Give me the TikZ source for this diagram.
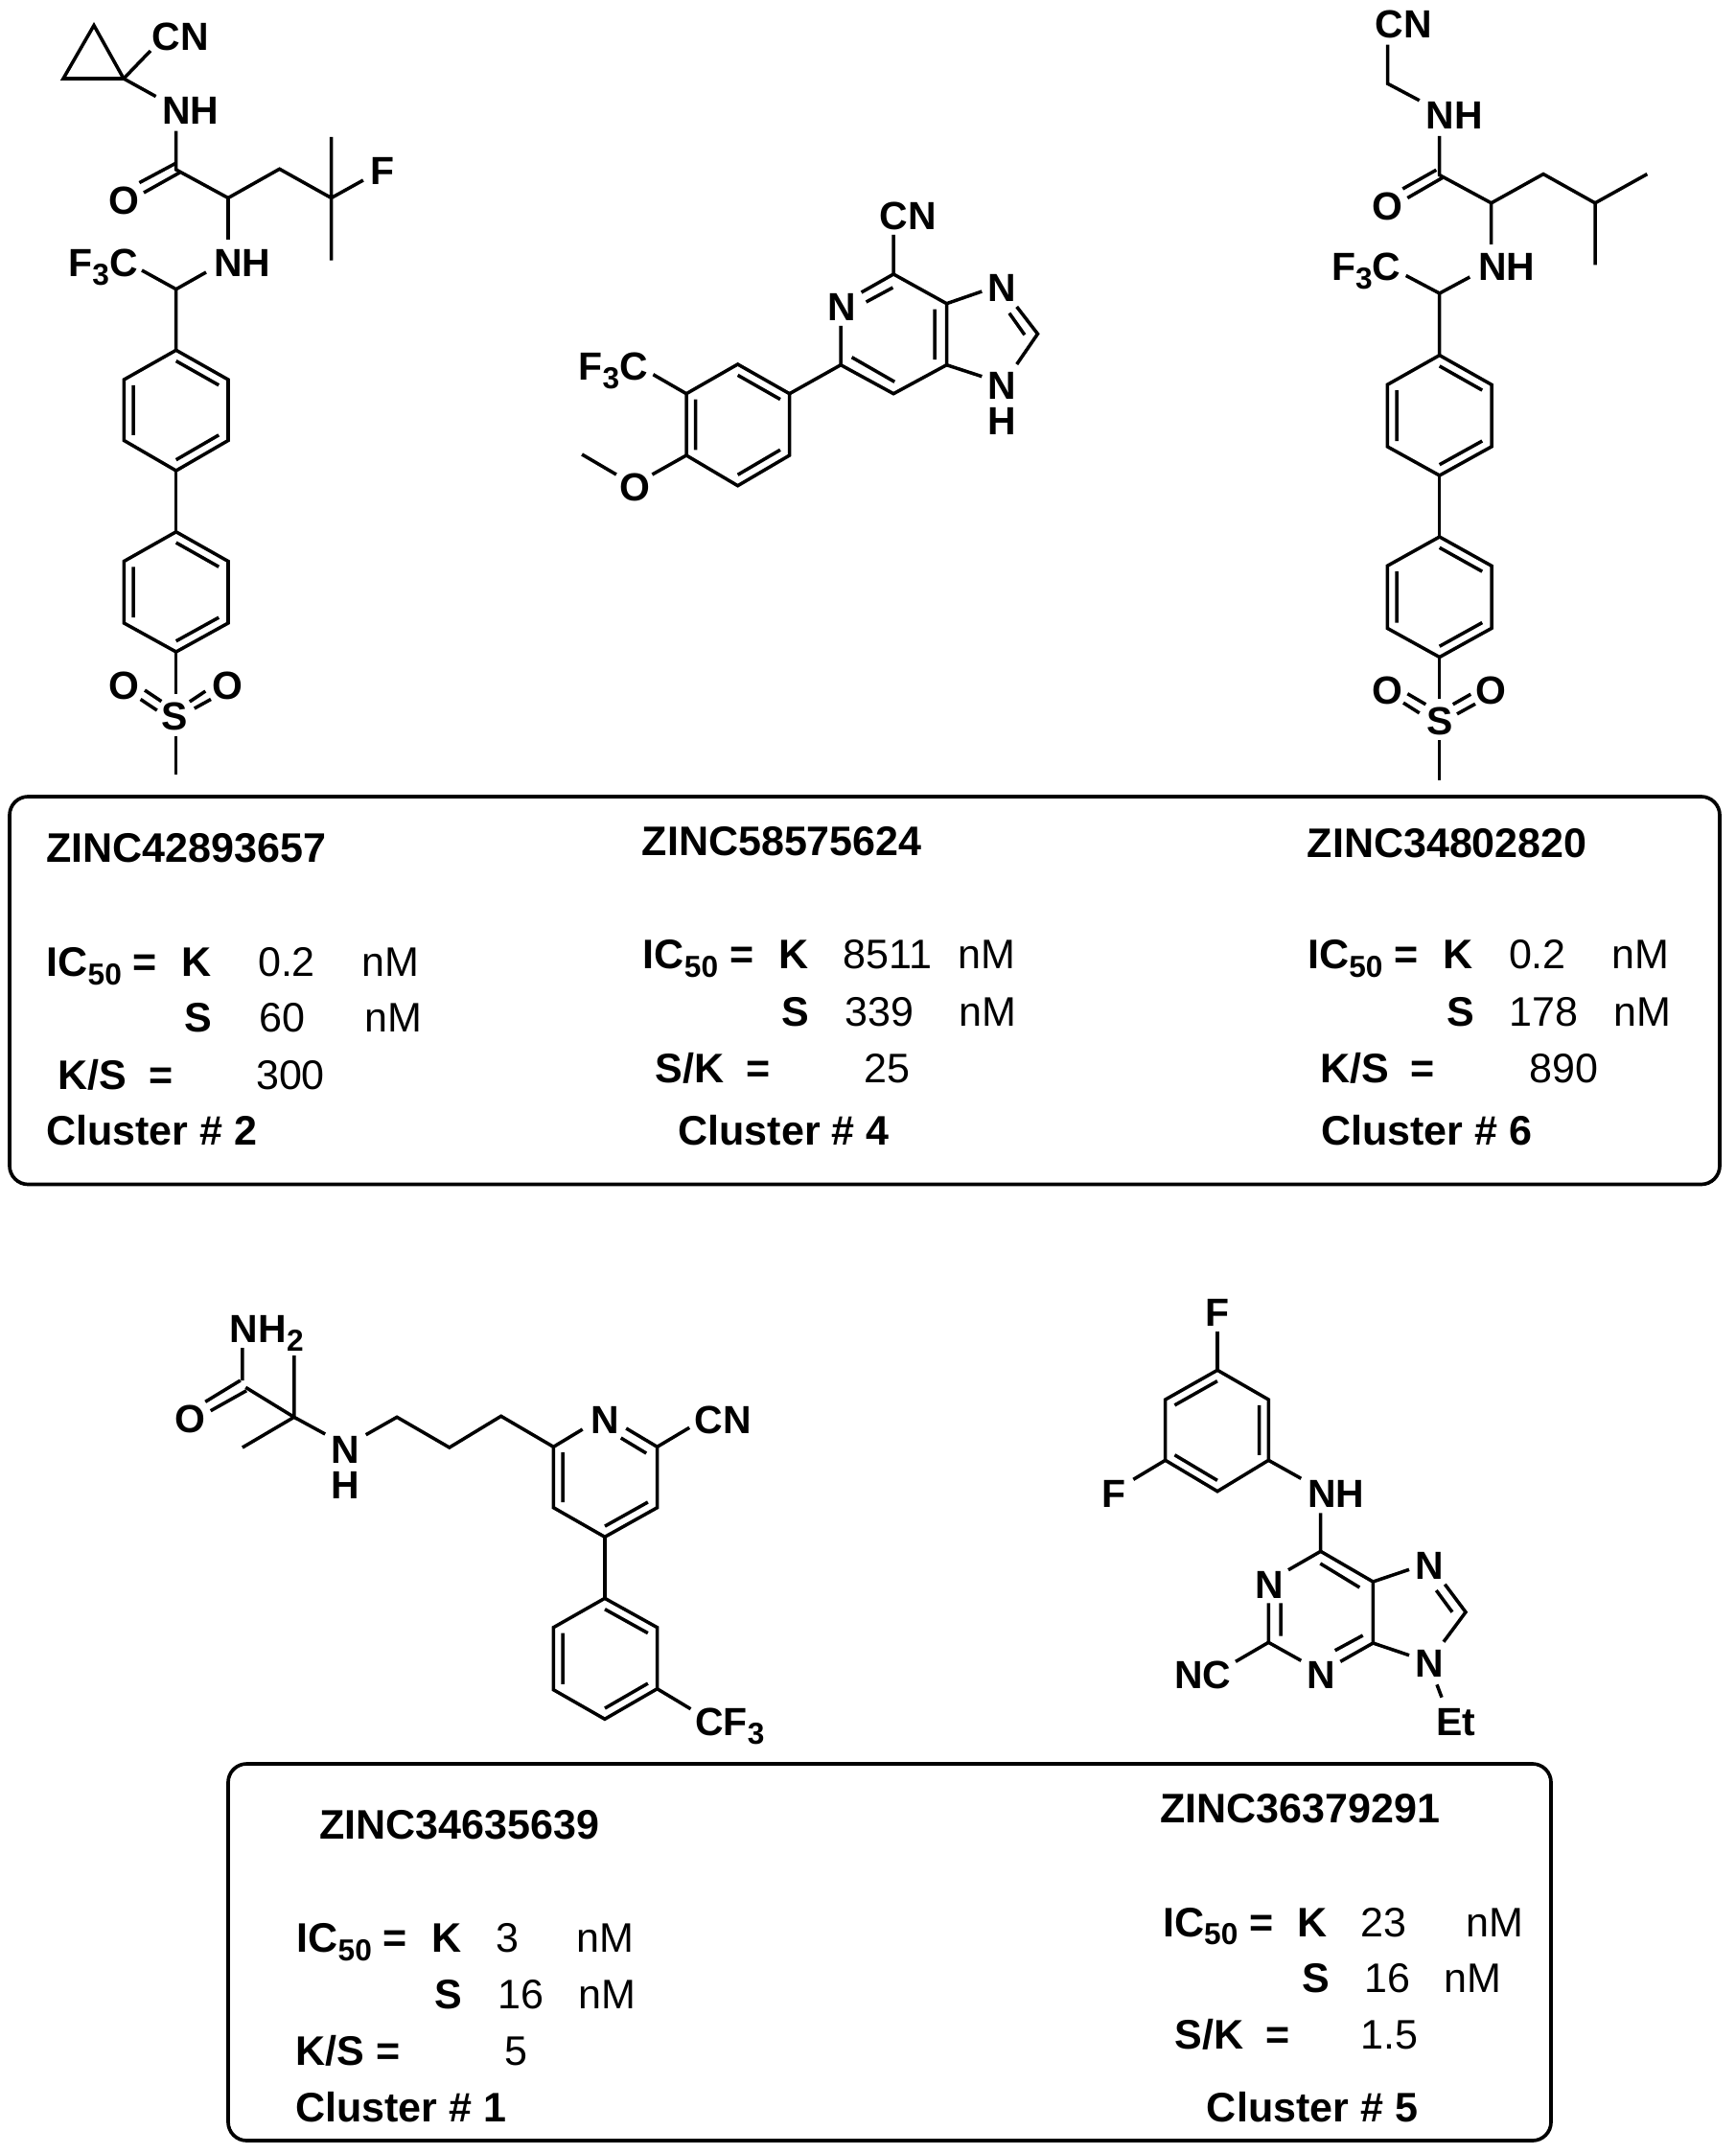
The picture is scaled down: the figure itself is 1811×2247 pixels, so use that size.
\documentclass[tikz,border=0pt]{standalone}
\usepackage{fontspec}
\setmainfont{Liberation Sans}
\usetikzlibrary{calc}
\newcommand{\lowsub}[1]{\raisebox{-5pt}{\fontsize{18}{20}\selectfont #1}}
\begin{document}
\begin{tikzpicture}[x=0.02cm,y=-0.02cm,line width=2pt,
	atom/.style={font=\fontsize{23.3}{28}\selectfont\bfseries,anchor=base,inner sep=0pt},
	tb/.style={font=\fontsize{24.5}{29}\selectfont\bfseries,anchor=base,inner sep=0pt},
	tr/.style={font=\fontsize{24.5}{29}\selectfont,anchor=base,inner sep=0pt},
	frame/.style={line width=2.1pt,rounded corners=11pt}]
			\useasboundingbox (0,0) rectangle (1811,2247);
			
			\coordinate (A1) at (98,26.5);
			\coordinate (A2) at (66,82);
			\coordinate (A3) at (129,82);
			\coordinate (Ae1) at (157,53);
			\coordinate (Ae2) at (162.6,100.6);
			\coordinate (Ae3) at (183.7,136.6);
			\coordinate (A4) at (183.7,177);
			\coordinate (Ad1) at (145.4,190.6);
			\coordinate (Ad2) at (183,170.5);
			\coordinate (Ad3) at (150,201);
			\coordinate (Ad4) at (187.5,180);
			\coordinate (A5) at (238,206.5);
			\coordinate (A6) at (291.6,176.3);
			\coordinate (A7) at (345.6,206.5);
			\coordinate (A8) at (345.6,143);
			\coordinate (A9) at (345.6,271.6);
			\coordinate (Ae4) at (378.9,188);
			\coordinate (Ae5) at (238,250);
			\coordinate (Ae6) at (215,284);
			\coordinate (A10) at (183.7,301.7);
			\coordinate (Ae7) at (148,282);
			\coordinate (Apo) at (183.7,428);
			\coordinate (Ap1) at (183.7,365.3);
			\coordinate (Ap2) at (238,396);
			\coordinate (Ap3) at (238,459.5);
			\coordinate (Ap4) at (183.7,491);
			\coordinate (Ap5) at (129.4,459.5);
			\coordinate (Ap6) at (129.4,396);
			\coordinate (Aqo) at (183.7,617.5);
			\coordinate (Aq1) at (183.7,554.8);
			\coordinate (Aq2) at (238,585.5);
			\coordinate (Aq3) at (238,650);
			\coordinate (Aq4) at (183.7,680);
			\coordinate (Aq5) at (129.4,650);
			\coordinate (Aq6) at (129.4,585.5);
			\coordinate (Ae8) at (183.7,724);
			\coordinate (Ae9) at (183.7,767.6);
			\coordinate (A11) at (183.7,808.4);
			\coordinate (As1) at (151,720);
			\coordinate (As2) at (168.4,731.6);
			\coordinate (As3) at (146.6,729.5);
			\coordinate (As4) at (163.8,741);
			\coordinate (As5) at (197.9,732);
			\coordinate (As6) at (214.3,721);
			\coordinate (As7) at (202.8,739);
			\coordinate (As8) at (220,729.5);
			
			\node (ACN) at (188.5,53) [atom] {CN};
			\node (ANHa) at (199,130) [atom] {NH};
			\node (AO) at (129.4,224) [atom] {O};
			\node (AF) at (399,193) [atom] {F};
			\node (ANHb) at (252.6,288.5) [atom] {NH};
			\node (ACF) at (107.5,288.5) [atom] {F\lowsub{3}C};
			\node (AS) at (182.5,761) [atom] {S};
			\node (AOa) at (129.4,729) [atom] {O};
			\node (AOb) at (237.3,729) [atom] {O};
			
			\draw (A1)--(A2)--(A3)--cycle;
			\draw (A3)--(Ae1) (A3)--(Ae2) (Ae3)--(A4)--(A5)--(A6)--(A7)--(Ae4) (A8)--(A9);
			\draw (Ad1)--(Ad2) (Ad3)--(Ad4);
			\draw (A5)--(Ae5) (Ae6)--(A10)--(Ae7) (A10)--(Ap1);
			\draw (Ap1)--(Ap2)--(Ap3)--(Ap4)--(Ap5)--(Ap6)--cycle;
			\draw ($(Ap1)!.18!(Apo)$)--($(Ap2)!.18!(Apo)$) ($(Ap3)!.18!(Apo)$)--($(Ap4)!.18!(Apo)$) ($(Ap5)!.18!(Apo)$)--($(Ap6)!.18!(Apo)$);
			\draw (Ap4)--(Aq1);
			\draw (Aq1)--(Aq2)--(Aq3)--(Aq4)--(Aq5)--(Aq6)--cycle;
			\draw ($(Aq1)!.18!(Aqo)$)--($(Aq2)!.18!(Aqo)$) ($(Aq3)!.18!(Aqo)$)--($(Aq4)!.18!(Aqo)$) ($(Aq5)!.18!(Aqo)$)--($(Aq6)!.18!(Aqo)$);
			\draw (Aq4)--(Ae8) (Ae9)--(A11);
			\draw (As1)--(As2) (As3)--(As4) (As5)--(As6) (As7)--(As8);
			
			\coordinate (B1) at (932.1,245);
			\coordinate (B2) at (932.1,286);
			\coordinate (Bd1) at (898.6,305);
			\coordinate (Bd2) at (903.6,315);
			\coordinate (Bd3) at (931.4,300);
			\coordinate (B3) at (987.5,316.7);
			\coordinate (B4) at (987.5,380.7);
			\coordinate (Bd4) at (975,322.7);
			\coordinate (Bd5) at (975,375);
			\coordinate (B5) at (932.1,410.7);
			\coordinate (B6) at (877.1,380.7);
			\coordinate (Bd6) at (888.6,372.7);
			\coordinate (Bd7) at (933.2,398.3);
			\coordinate (Be1) at (877.1,340);
			\coordinate (Be2) at (1024.3,304);
			\coordinate (Be3) at (1024.3,392.7);
			\coordinate (Be4) at (1060.7,320);
			\coordinate (B7) at (1082.5,348.3);
			\coordinate (Be5) at (1060.7,380);
			\coordinate (Bd8) at (1052.9,326.7);
			\coordinate (Bd9) at (1068.9,349.3);
			\coordinate (Bpo) at (769.8,443.3);
			\coordinate (Bp1) at (823.6,410.7);
			\coordinate (Bp2) at (769.6,380);
			\coordinate (Bp3) at (716,410.7);
			\coordinate (Bp4) at (716,475);
			\coordinate (Bp5) at (769.6,506.7);
			\coordinate (Bp6) at (823.6,475);
			\coordinate (Be6) at (681.4,390.7);
			\coordinate (Be7) at (680.4,495);
			\coordinate (Be8) at (642.9,495);
			\coordinate (B8) at (607.1,474);
			
			\node (BCN) at (947.5,240) [atom] {CN};
			\node (BNa) at (878.4,335) [atom] {N};
			\node (BNb) at (1045.7,315) [atom] {N};
			\node (BNc) at (1045.7,416.7) [atom] {N};
			\node (BH) at (1045.7,453.3) [atom] {H};
			\node (BCF) at (639.8,396.7) [atom] {F\lowsub{3}C};
			\node (BO) at (662,522.5) [atom] {O};
			
			\draw (B1)--(B2)--(B3)--(B4)--(B5)--(B6)--(Be1);
			\draw (B2)--(Bd1) (Bd2)--(Bd3) (Bd4)--(Bd5) (Bd6)--(Bd7);
			\draw (B3)--(Be2) (B4)--(Be3) (Be4)--(B7)--(Be5) (Bd8)--(Bd9);
			\draw (B6)--(Bp1);
			\draw (Bp1)--(Bp2)--(Bp3)--(Bp4)--(Bp5)--(Bp6)--cycle;
			\draw ($(Bp1)!.18!(Bpo)$)--($(Bp2)!.18!(Bpo)$) ($(Bp3)!.18!(Bpo)$)--($(Bp4)!.18!(Bpo)$) ($(Bp5)!.18!(Bpo)$)--($(Bp6)!.18!(Bpo)$);
			\draw (Bp3)--(Be6) (Bp4)--(Be7) (Be8)--(B8);
			
			\coordinate (C1) at (1447.7,46.6);
			\coordinate (C2) at (1447.7,87.3);
			\coordinate (Ce1) at (1480.7,104.8);
			\coordinate (Ce2) at (1501.7,141.9);
			\coordinate (C3) at (1501.7,182.6);
			\coordinate (Cd1) at (1463.3,197);
			\coordinate (Cd2) at (1498.3,177.3);
			\coordinate (Cd3) at (1468.3,206.5);
			\coordinate (Cd4) at (1505,185.3);
			\coordinate (C4) at (1555.7,211.8);
			\coordinate (C5) at (1610,181.6);
			\coordinate (C6) at (1664,211.8);
			\coordinate (C7) at (1718.3,181.6);
			\coordinate (C8) at (1664,276.3);
			\coordinate (Ce3) at (1555.7,255);
			\coordinate (Ce4) at (1533.3,289);
			\coordinate (C9) at (1501.7,306);
			\coordinate (Ce5) at (1466.7,287.5);
			\coordinate (Cpo) at (1501.7,433.3);
			\coordinate (Cp1) at (1501.7,370.6);
			\coordinate (Cp2) at (1556,401.3);
			\coordinate (Cp3) at (1556,465.9);
			\coordinate (Cp4) at (1501.7,496);
			\coordinate (Cp5) at (1447.3,465.9);
			\coordinate (Cp6) at (1447.3,401.3);
			\coordinate (Cqo) at (1501.7,622.8);
			\coordinate (Cq1) at (1501.7,560);
			\coordinate (Cq2) at (1556,590.3);
			\coordinate (Cq3) at (1556,655.4);
			\coordinate (Cq4) at (1501.7,685.5);
			\coordinate (Cq5) at (1447.3,655.4);
			\coordinate (Cq6) at (1447.3,590.3);
			\coordinate (Ce6) at (1501.7,729);
			\coordinate (Ce7) at (1501.7,771.8);
			\coordinate (C10) at (1501.7,813.7);
			\coordinate (Cs1) at (1468.3,723.7);
			\coordinate (Cs2) at (1487.3,734.8);
			\coordinate (Cs3) at (1464,733.2);
			\coordinate (Cs4) at (1480.7,743.8);
			\coordinate (Cs5) at (1515.7,734.8);
			\coordinate (Cs6) at (1534.3,724.2);
			\coordinate (Cs7) at (1520,744.8);
			\coordinate (Cs8) at (1539,734.3);
			
			\node (CCN) at (1464,39.5) [atom] {CN};
			\node (CNHa) at (1517.5,135) [atom] {NH};
			\node (CO) at (1447,229.5) [atom] {O};
			\node (CNHb) at (1571.7,292.7) [atom] {NH};
			\node (CCF) at (1425.2,292.7) [atom] {F\lowsub{3}C};
			\node (CS) at (1501.7,766) [atom] {S};
			\node (COa) at (1447,734.3) [atom] {O};
			\node (COb) at (1555.3,734.3) [atom] {O};
			
			\draw (C1)--(C2)--(Ce1) (Ce2)--(C3)--(C4)--(C5)--(C6)--(C7) (C6)--(C8);
			\draw (Cd1)--(Cd2) (Cd3)--(Cd4);
			\draw (C4)--(Ce3) (Ce4)--(C9)--(Ce5) (C9)--(Cp1);
			\draw (Cp1)--(Cp2)--(Cp3)--(Cp4)--(Cp5)--(Cp6)--cycle;
			\draw ($(Cp1)!.18!(Cpo)$)--($(Cp2)!.18!(Cpo)$) ($(Cp3)!.18!(Cpo)$)--($(Cp4)!.18!(Cpo)$) ($(Cp5)!.18!(Cpo)$)--($(Cp6)!.18!(Cpo)$);
			\draw (Cp4)--(Cq1);
			\draw (Cq1)--(Cq2)--(Cq3)--(Cq4)--(Cq5)--(Cq6)--cycle;
			\draw ($(Cq1)!.18!(Cqo)$)--($(Cq2)!.18!(Cqo)$) ($(Cq3)!.18!(Cqo)$)--($(Cq4)!.18!(Cqo)$) ($(Cq5)!.18!(Cqo)$)--($(Cq6)!.18!(Cqo)$);
			\draw (Cq4)--(Ce6) (Ce7)--(C10);
			\draw (Cs1)--(Cs2) (Cs3)--(Cs4) (Cs5)--(Cs6) (Cs7)--(Cs8);
			
			\coordinate (box1a) at (10,831);
			\coordinate (box1b) at (1794,1235.5);
			\draw[frame] (box1a) rectangle (box1b);
			
			\node (zincA) at (194.5,899.3) [tb] {ZINC42893657};
			\node (icA) at (106.3,1018.3) [tb] {IC\lowsub{50} =};
			\node (kA) at (204.8,1018.3) [tb] {K};
			\node (kvalA) at (299,1018.3) [tr] {0.2};
			\node (kunitA) at (407.6,1018.3) [tr] {nM};
			\node (sA) at (206.5,1076.7) [tb] {S};
			\node (svalA) at (294.3,1076.7) [tr] {60};
			\node (sunitA) at (410,1076.7) [tr] {nM};
			\node (ratioA) at (96.5,1136) [tb] {K/S};
			\node (eqA) at (168.5,1136) [tb] {=};
			\node (rvalA) at (303,1136) [tr] {300};
			\node (clusA) at (158.3,1194) [tb] {Cluster \# 2};
			
			\node (zincB) at (815.7,892.7) [tb] {ZINC58575624};
			\node (icB) at (728.6,1010.7) [tb] {IC\lowsub{50} =};
			\node (kB) at (828.5,1010.7) [tb] {K};
			\node (kvalB) at (926,1010.7) [tr] {8511};
			\node (kunitB) at (1029.3,1010.7) [tr] {nM};
			\node (sB) at (829.7,1070) [tb] {S};
			\node (svalB) at (917.8,1070) [tr] {339};
			\node (sunitB) at (1030.5,1070) [tr] {nM};
			\node (ratioB) at (719.8,1129.3) [tb] {S/K};
			\node (eqB) at (791,1129.3) [tb] {=};
			\node (rvalB) at (925,1129.3) [tr] {25};
			\node (clusB) at (817.5,1194) [tb] {Cluster \# 4};
			
			\node (zincC) at (1509.7,894) [tb] {ZINC34802820};
			\node (icC) at (1422,1010.7) [tb] {IC\lowsub{50} =};
			\node (kC) at (1521.5,1010.7) [tb] {K};
			\node (kvalC) at (1603.9,1010.7) [tr] {0.2};
			\node (kunitC) at (1711.8,1010.7) [tr] {nM};
			\node (sC) at (1524.2,1070.7) [tb] {S};
			\node (svalC) at (1610.8,1070.7) [tr] {178};
			\node (sunitC) at (1713.5,1070.7) [tr] {nM};
			\node (ratioC) at (1413.3,1129.3) [tb] {K/S};
			\node (eqC) at (1484.3,1129.3) [tb] {=};
			\node (rvalC) at (1631.5,1129.3) [tr] {890};
			\node (clusC) at (1488.3,1194) [tb] {Cluster \# 6};
			
			\coordinate (D1) at (252.9,1406);
			\coordinate (D2) at (252.9,1440);
			\coordinate (Dd1) at (214.2,1462.3);
			\coordinate (Dd2) at (250.8,1440);
			\coordinate (Dd3) at (219.7,1471.7);
			\coordinate (Dd4) at (257.1,1450.7);
			\coordinate (D3) at (256.3,1447.3);
			\coordinate (D4) at (306.8,1478.3);
			\coordinate (D5) at (306.8,1414);
			\coordinate (D6) at (252.9,1510);
			\coordinate (De1) at (339.2,1496);
			\coordinate (De2) at (381.7,1496.7);
			\coordinate (D7) at (414.1,1478.3);
			\coordinate (D8) at (468.8,1510);
			\coordinate (D9) at (522.7,1477.3);
			\coordinate (Dpo) at (631.5,1541);
			\coordinate (Dp1) at (577.4,1509.3);
			\coordinate (De3) at (607.7,1491);
			\coordinate (De4) at (653.2,1490);
			\coordinate (Dp2) at (685.6,1509.3);
			\coordinate (Dd5) at (647.7,1500);
			\coordinate (Dd6) at (674.2,1516);
			\coordinate (De5) at (719.2,1489.3);
			\coordinate (Dp3) at (685.6,1572.7);
			\coordinate (Dp4) at (630.9,1603.3);
			\coordinate (Dp5) at (577.4,1572.7);
			\coordinate (Dqo) at (631.5,1730.5);
			\coordinate (Dq1) at (630.9,1667.3);
			\coordinate (Dq2) at (685.6,1697.7);
			\coordinate (Dq3) at (685.6,1761.7);
			\coordinate (Dq4) at (630.9,1793.3);
			\coordinate (Dq5) at (577.4,1762.7);
			\coordinate (Dq6) at (577.4,1697.7);
			\coordinate (De6) at (720.5,1782.7);
			
			\node (DNH) at (278.3,1400.7) [atom] {NH\lowsub{2}};
			\node (DO) at (198.3,1494.5) [atom] {O};
			\node (DN) at (360.7,1526.7) [atom] {N};
			\node (DH) at (360.7,1563.3) [atom] {H};
			\node (DNa) at (630.9,1495) [atom] {N};
			\node (DCN) at (754.4,1495) [atom] {CN};
			\node (DCF) at (761.3,1810.7) [atom] {CF\lowsub{3}};
			
			\draw (D1)--(D2) (D3)--(D4)--(D5) (D4)--(D6) (D4)--(De1);
			\draw (Dd1)--(Dd2) (Dd3)--(Dd4);
			\draw (De2)--(D7)--(D8)--(D9)--(Dp1)--(De3) (De4)--(Dp2)--(De5) (Dd5)--(Dd6);
			\draw (Dp1)--(Dp5)--(Dp4)--(Dp3)--(Dp2);
			\draw ($(Dp1)!.18!(Dpo)$)--($(Dp5)!.18!(Dpo)$) ($(Dp3)!.18!(Dpo)$)--($(Dp4)!.18!(Dpo)$);
			\draw (Dp4)--(Dq1);
			\draw (Dq1)--(Dq2)--(Dq3)--(Dq4)--(Dq5)--(Dq6)--cycle;
			\draw ($(Dq1)!.18!(Dqo)$)--($(Dq2)!.18!(Dqo)$) ($(Dq3)!.18!(Dqo)$)--($(Dq4)!.18!(Dqo)$) ($(Dq5)!.18!(Dqo)$)--($(Dq6)!.18!(Dqo)$);
			\draw (Dq3)--(De6);
			
			\coordinate (E1) at (1270,1389.3);
			\coordinate (Epo) at (1269.5,1492.5);
			\coordinate (Ep1) at (1270,1429.3);
			\coordinate (Ep2) at (1323.3,1460);
			\coordinate (Ep3) at (1323.3,1523.3);
			\coordinate (Ep4) at (1270,1555.7);
			\coordinate (Ep5) at (1215.7,1523.3);
			\coordinate (Ep6) at (1215.7,1460);
			\coordinate (Ee1) at (1182.3,1543.3);
			\coordinate (Ee2) at (1357.3,1542.3);
			\coordinate (Ee3) at (1377.7,1578.3);
			\coordinate (E2) at (1377.7,1618.3);
			\coordinate (E3) at (1432.3,1650);
			\coordinate (E4) at (1432.3,1714);
			\coordinate (E5) at (1323.3,1713.3);
			\coordinate (Ee4) at (1344,1637.7);
			\coordinate (Ed1) at (1377.3,1631);
			\coordinate (Ed2) at (1418.3,1656);
			\coordinate (Ee5) at (1398.3,1733.3);
			\coordinate (Ed3) at (1392.7,1721.7);
			\coordinate (Ed4) at (1421.7,1706);
			\coordinate (Ee6) at (1357.3,1732.3);
			\coordinate (Ee7) at (1323.3,1672.3);
			\coordinate (Ed5) at (1336,1706.7);
			\coordinate (Ed6) at (1336,1672.3);
			\coordinate (Ee8) at (1289,1733.3);
			\coordinate (Ee9) at (1470,1637.3);
			\coordinate (Ee10) at (1507.3,1652.7);
			\coordinate (E6) at (1529,1681.7);
			\coordinate (Ed7) at (1498.3,1659);
			\coordinate (Ed8) at (1515,1681.7);
			\coordinate (Ee11) at (1506,1712.7);
			\coordinate (Ee12) at (1470,1726.7);
			\coordinate (Ee13) at (1499,1757.3);
			\coordinate (Ee14) at (1504,1770.7);
			
			\node (EFa) at (1270,1383.3) [atom] {F};
			\node (EFb) at (1161.7,1572.3) [atom] {F};
			\node (ENH) at (1393.8,1572.3) [atom] {NH};
			\node (ENa) at (1324.5,1667.7) [atom] {N};
			\node (ENb) at (1377.8,1761.7) [atom] {N};
			\node (ENC) at (1254.7,1761.7) [atom] {NC};
			\node (ENc) at (1491.2,1647.3) [atom] {N};
			\node (ENd) at (1491.2,1749) [atom] {N};
			\node (EEt) at (1519,1810) [atom] {Et};
			
			\draw (E1)--(Ep1);
			\draw (Ep1)--(Ep2)--(Ep3)--(Ep4)--(Ep5)--(Ep6)--cycle;
			\draw ($(Ep1)!.18!(Epo)$)--($(Ep6)!.18!(Epo)$) ($(Ep2)!.18!(Epo)$)--($(Ep3)!.18!(Epo)$) ($(Ep4)!.18!(Epo)$)--($(Ep5)!.18!(Epo)$);
			\draw (Ep5)--(Ee1) (Ep3)--(Ee2) (Ee3)--(E2);
			\draw (Ee4)--(E2)--(E3)--(E4)--(Ee5) (Ee6)--(E5)--(Ee7);
			\draw (Ed1)--(Ed2) (Ed3)--(Ed4) (Ed5)--(Ed6);
			\draw (E5)--(Ee8) (E3)--(Ee9) (Ee10)--(E6)--(Ee11) (Ed7)--(Ed8);
			\draw (E4)--(Ee12) (Ee13)--(Ee14);
			
			\coordinate (box2a) at (238,1840);
			\coordinate (box2b) at (1618,2233);
			\draw[frame] (box2a) rectangle (box2b);
			
			\node (zincD) at (479.5,1918.3) [tb] {ZINC34635639};
			\node (icD) at (367.3,2036.7) [tb] {IC\lowsub{50} =};
			\node (kD) at (466,2036.7) [tb] {K};
			\node (kvalD) at (529,2036.7) [tr] {3};
			\node (kunitD) at (631,2036.7) [tr] {nM};
			\node (sD) at (468.3,2095) [tb] {S};
			\node (svalD) at (543.7,2095) [tr] {16};
			\node (sunitD) at (633.5,2095) [tr] {nM};
			\node (ratioD) at (344.5,2154.3) [tb] {K/S};
			\node (eqD) at (405.3,2154.3) [tb] {=};
			\node (rvalD) at (538.5,2154.3) [tr] {5};
			\node (clusD) at (418.3,2213.3) [tb] {Cluster \# 1};
			
			\node (zincE) at (1356,1901.7) [tb] {ZINC36379291};
			\node (icE) at (1270.8,2020) [tb] {IC\lowsub{50} =};
			\node (kE) at (1369,2020) [tb] {K};
			\node (kvalE) at (1443.8,2020) [tr] {23};
			\node (kunitE) at (1559.8,2020) [tr] {nM};
			\node (sE) at (1372.6,2078.3) [tb] {S};
			\node (svalE) at (1447.2,2078.3) [tr] {16};
			\node (sunitE) at (1536.5,2078.3) [tr] {nM};
			\node (ratioE) at (1261.7,2137.7) [tb] {S/K};
			\node (eqE) at (1333,2137.7) [tb] {=};
			\node (rvalE) at (1449.5,2137.7) [tr] {1.5};
			\node (clusE) at (1369,2213.3) [tb] {Cluster \# 5};
		\end{tikzpicture}
\end{document}
